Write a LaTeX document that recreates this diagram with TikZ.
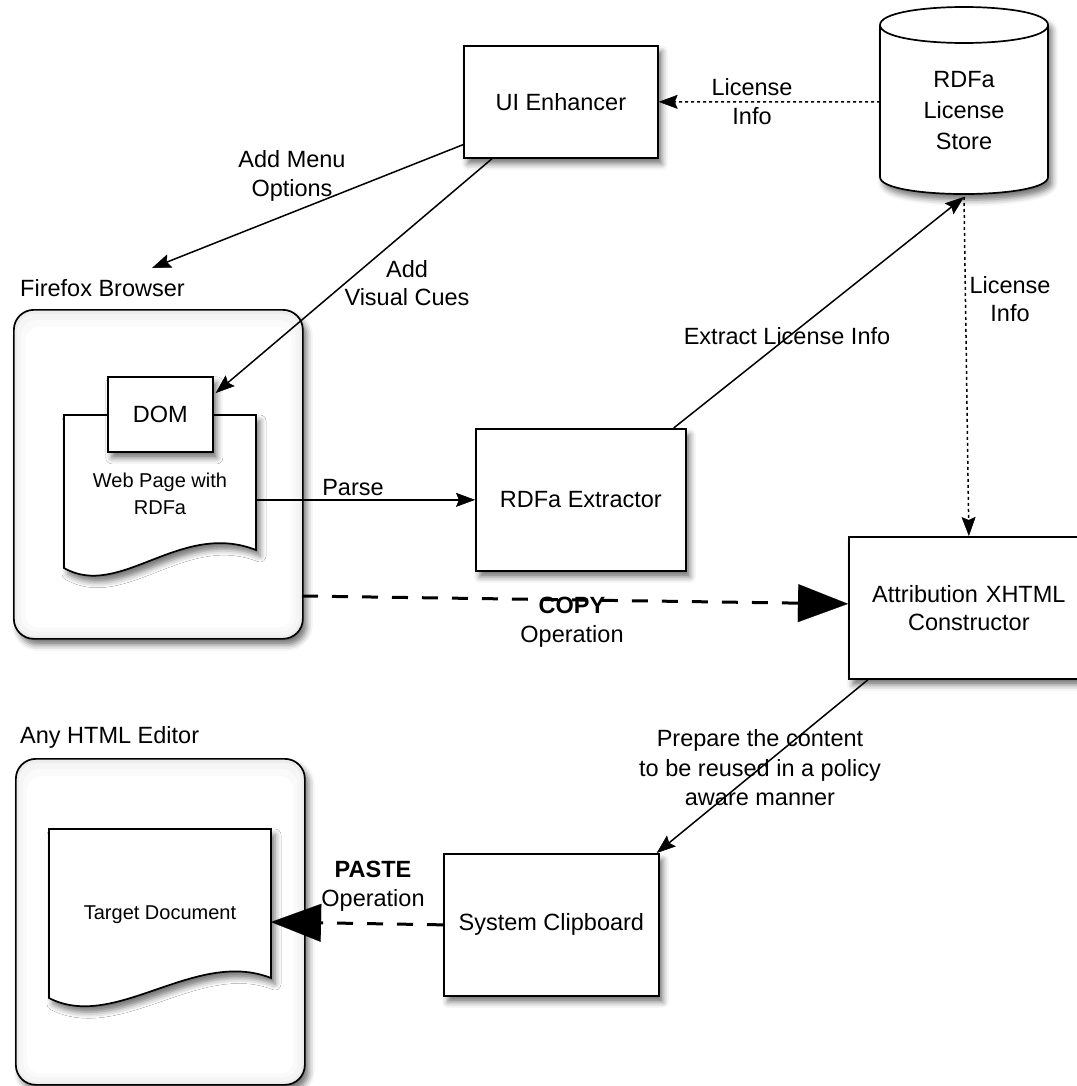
\documentclass[tikz,border=0pt]{standalone}
\usepackage{fontspec}
\setmainfont{Liberation Sans}
\usetikzlibrary{arrows.meta,calc,shadows.blur}
\begin{document}
\begin{tikzpicture}[x=1pt,y=-1pt,
  font=\fontsize{23.5}{28.5}\selectfont,
  softshadow/.style={blur shadow={shadow xshift=4pt,shadow yshift=-6pt,shadow blur radius=6pt,shadow opacity=55}},
  box/.style={draw,line width=1.7pt,fill=white,anchor=north west,align=center,inner sep=0pt,softshadow},
  container/.style={draw,line width=1.7pt,fill=gray!14,rounded corners=20pt,anchor=north west,inner sep=0pt,softshadow},
  ghost/.style={anchor=north west,inner sep=0pt,outer sep=0pt},
  docshape/.style={draw,line width=1.7pt,fill=white,softshadow},
  small/.style={font=\fontsize{20}{27}\selectfont,align=center},
  lbl/.style={align=center,inner sep=0pt},
  conn/.style={line width=1.5pt,-{Stealth[length=19pt,width=14pt,inset=3pt,fill=black,line width=0.5pt]}},
  dotconn/.style={conn,dash pattern=on 3pt off 3pt},
  bigdash/.style={line width=3pt,dash pattern=on 16pt off 14pt,-{Triangle[length=50pt,width=38pt,fill=black,line width=0.1pt]}}
]
\useasboundingbox (0,0) rectangle (1076,1086);

% ---------- containers ----------
\node[container,minimum width=289pt,minimum height=329pt] (ff) at (13,309) {};
\fill[gray!8,rounded corners=18pt] ($(ff.north west)+(4,5)$) rectangle ($(ff.south east)+(-4,-4)$);
\fill[gray!4,rounded corners=16pt] ($(ff.north west)+(8,11)$) rectangle ($(ff.south east)+(-8,-8)$);
\fill[white,rounded corners=14pt] ($(ff.north west)+(12,18)$) rectangle ($(ff.south east)+(-12,-12)$);

\node[container,minimum width=289pt,minimum height=326pt] (ed) at (15,758) {};
\fill[gray!8,rounded corners=18pt] ($(ed.north west)+(4,5)$) rectangle ($(ed.south east)+(-4,-4)$);
\fill[gray!4,rounded corners=16pt] ($(ed.north west)+(8,11)$) rectangle ($(ed.south east)+(-8,-8)$);
\fill[white,rounded corners=14pt] ($(ed.north west)+(12,18)$) rectangle ($(ed.south east)+(-12,-12)$);

\node[lbl,anchor=west] (fflbl) at (20,288) {Firefox Browser};
\node[lbl,anchor=west] (edlbl) at (20,737) {Any HTML Editor};

% ---------- web page document ----------
\node[ghost,minimum width=192pt,minimum height=170pt] (web) at (64,415) {};
\path[docshape] (64,415) -- (256,415) -- (256,550) .. controls (180,520) and (120,600) .. (64,568) -- cycle;
\node[small] (webtxt) at (160,494) {Web Page with\\RDFa};
\node[box,minimum width=105pt,minimum height=75pt] (dom) at (107,376) {DOM};

% ---------- target document ----------
\node[ghost,minimum width=222pt,minimum height=186pt] (tdoc) at (49,829) {};
\path[docshape] (49,829) -- (271,829) -- (271,978) .. controls (195,948) and (115,1032) .. (49,998) -- cycle;
\node[small] (tdoctxt) at (160,915) {Target Document};

% ---------- boxes ----------
\node[box,minimum width=194pt,minimum height=112pt] (uie) at (463,45) {UI Enhancer};
\node[box,minimum width=210pt,minimum height=142pt] (ext) at (475,428) {RDFa Extractor};
\node[box,minimum width=240pt,minimum height=142pt,text width=240pt] (attr) at (848,536) {Attribution XHTML\\Constructor};
\node[box,minimum width=215pt,minimum height=142pt] (clip) at (443,853) {System Clipboard};

% ---------- cylinder ----------
\node[ghost,minimum width=168pt,minimum height=190pt] (store) at (880,7) {};
\path[draw,line width=1.7pt,fill=white,softshadow]
  (880,25) -- (880,177) .. controls (880,199.7) and (1048,199.7) .. (1048,177)
  -- (1048,25) .. controls (1048,1) and (880,1) .. (880,25) -- cycle;
\draw[line width=1.7pt] (880,25) .. controls (880,49) and (1048,49) .. (1048,25);
\node[lbl,font=\fontsize{23.5}{31}\selectfont] (storetxt) at (964,111) {RDFa\\License\\Store};

% ---------- connectors ----------
\draw[dotconn] (store.west) -- (uie.east);
\draw[dotconn] (store.south) -- (attr.north);
\draw[conn] ($(ext.north east)+(-13,0)$) -- (store.south);
\coordinate (menutip) at (152,268);
\draw[conn] ($(uie.south west)+(0,-14)$) -- (menutip);
\draw[conn] ($(uie.south west)+(29,0)$) -- ($(dom.north east)+(2,17)$);
\draw[conn] (web.east |- ext.west) -- (ext.west);
\coordinate (copystart) at (302,596);
\draw[bigdash] (copystart) -- ([yshift=4pt]attr.west);
\draw[conn] ($(attr.south west)+(20,0)$) -- ($(clip.north east)+(-3,0)$);
\draw[bigdash] (clip.west) -- (tdoc.east);

% ---------- labels ----------
\node[lbl,font=\fontsize{23.5}{29}\selectfont] (l1) at (752,102) {License\\Info};
\node[lbl] (l2) at (1010,299) {License\\Info};
\node[lbl] (l3) at (292,176) {Add Menu\\Options};
\node[lbl] (l4) at (407,283) {Add\\Visual Cues};
\node[lbl] (l5) at (787,336) {Extract License Info};
\node[lbl] (l6) at (353,488) {Parse};
\node[lbl,font=\fontsize{23.5}{29}\selectfont] (l7) at (572,622) {\textbf{COPY}\\Operation};
\node[lbl,font=\fontsize{23.5}{29.5}\selectfont] (l8) at (760,768) {Prepare the content\\to be reused in a policy\\aware manner};
\node[lbl,font=\fontsize{23.5}{29}\selectfont] (l9) at (373,886) {\textbf{PASTE}\\Operation};
\end{tikzpicture}
\end{document}
